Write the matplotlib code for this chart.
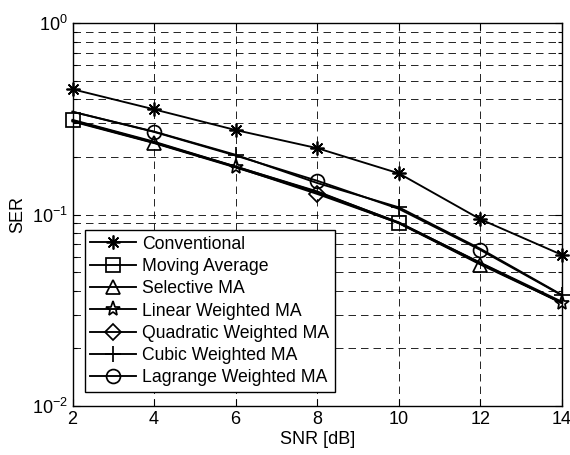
import matplotlib
matplotlib.use("Agg")
import matplotlib.pyplot as plt
from matplotlib.ticker import LogLocator, NullFormatter, FixedLocator

plt.rcParams['font.family'] = ['Liberation Sans', 'DejaVu Sans']
plt.rcParams['mathtext.fontset'] = 'custom'
plt.rcParams['mathtext.rm'] = 'Liberation Sans'
plt.rcParams['mathtext.it'] = 'Liberation Sans'
plt.rcParams['mathtext.default'] = 'regular'

snr = [2, 4, 6, 8, 10, 12, 14]
conventional = [0.451, 0.354, 0.276, 0.222, 0.164, 0.0944, 0.0615]
moving_avg = [0.312, 0.240, 0.178, 0.132, 0.0906, 0.0560, 0.0350]
selective_ma = [0.306, 0.236, 0.176, 0.130, 0.0900, 0.0548, 0.0345]
linear_wma = [0.310, 0.238, 0.178, 0.131, 0.0910, 0.0558, 0.0344]
quadratic_wma = [0.308, 0.237, 0.177, 0.128, 0.0902, 0.0553, 0.0346]
cubic_wma = [0.344, 0.271, 0.205, 0.146, 0.109, 0.0662, 0.0380]
lagrange_wma = [0.344, 0.270, 0.203, 0.150, 0.107, 0.0653, 0.0378]

labels = ['Conventional', 'Moving Average', 'Selective MA', 'Linear Weighted MA',
          'Quadratic Weighted MA', 'Cubic Weighted MA', 'Lagrange Weighted MA']
x_ticks = [2, 4, 6, 8, 10, 12, 14]

fig = plt.figure(figsize=(5.7, 4.55), dpi=100)
ax = fig.add_axes([72.5/570, 49/455, (562-72.5)/570, (406-23)/455])

series = [conventional, moving_avg, selective_ma, linear_wma, quadratic_wma, cubic_wma, lagrange_wma]
markers = [(8, 2, 0), 's', '^', '*', 'D', '+', 'o']
msizes = [10, 10, 10, 11, 8.5, 11, 10]
mevery = [None, [0, 4], [1, 5], [2, 6], [3], [2, 4, 6], [1, 3, 5]]

for y, lab, m, ms, me in zip(series, labels, markers, msizes, mevery):
    ax.plot(snr, y, color='black', lw=1.35, marker=m, markersize=ms,
            markerfacecolor='none', markeredgecolor='black', markeredgewidth=1.25,
            markevery=me, label=lab, clip_on=False)

ax.set_yscale('log')
ax.set_ylim(1e-2, 1e0)
ax.set_xlim(2, 14)
ax.xaxis.set_major_locator(FixedLocator(x_ticks))
ax.yaxis.set_major_locator(LogLocator(base=10, numticks=10))
ax.yaxis.set_minor_locator(LogLocator(base=10, subs=range(2, 10), numticks=20))
ax.yaxis.set_minor_formatter(NullFormatter())

grid_kw = dict(color='black', linewidth=0.6, linestyle=(0, (9, 6)))
ax.grid(True, which='major', axis='both', **grid_kw)
ax.grid(True, which='minor', axis='y', **grid_kw)
ax.set_axisbelow(True)

ax.tick_params(which='both', direction='in', top=True, right=True, labelsize=13,
               width=0.8, colors='black')
ax.tick_params(which='major', length=5)
ax.tick_params(which='minor', length=3)
for s in ax.spines.values():
    s.set_linewidth(1.0)

ax.set_xlabel('SNR [dB]', fontsize=13, labelpad=2)
ax.set_ylabel('SER', fontsize=13, labelpad=4)

leg = ax.legend(loc='lower left', bbox_to_anchor=(85/570, (455-391.7)/455),
                bbox_transform=fig.transFigure, borderaxespad=0,
                fontsize=12.7, frameon=True, fancybox=False, framealpha=1,
                edgecolor='black', handlelength=2.6, handletextpad=0.35,
                labelspacing=0.3, borderpad=0.3, numpoints=1)
leg.get_frame().set_linewidth(1.0)

fig.savefig('out.png', dpi=100)
